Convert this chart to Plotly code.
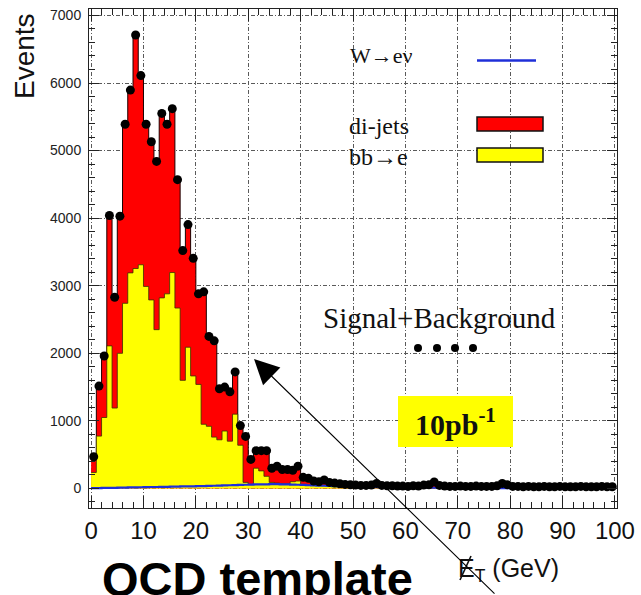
import numpy as np
import plotly.graph_objects as go

# ---------------- data (1 GeV bins, 0-100 GeV) ----------------
bin_edges = list(range(0, 101))

signal_plus_bkg = [
    470, 1515, 1960, 4040, 2830, 4030, 5390, 5895, 6710, 6110,
    5390, 5130, 4840, 5550, 5390, 5620, 4570, 3520, 3905, 3405,
    2880, 2910, 2250, 2185, 1475, 1500, 1430, 1725, 930, 770,
    430, 560, 560, 560, 300, 330, 280, 280, 270, 330,
    165, 150, 110, 100, 125, 90, 80, 70, 60, 55,
    50, 45, 45, 50, 75, 45, 40, 40, 35, 35,
    30, 40, 35, 50, 55, 95, 45, 35, 30, 30,
    35, 30, 30, 35, 30, 30, 30, 40, 75, 55,
    30, 30, 25, 30, 25, 25, 30, 25, 25, 30,
    25, 25, 25, 30, 25, 25, 25, 30, 25, 25,
]

w_enu = [
    5, 5, 8, 8, 10, 12, 12, 15, 15, 18,
    20, 22, 22, 25, 25, 28, 28, 30, 30, 32,
    35, 35, 38, 40, 42, 45, 48, 50, 52, 55,
    58, 60, 62, 62, 65, 65, 62, 60, 58, 55,
    52, 48, 45, 42, 40, 38, 35, 32, 30, 28,
    26, 25, 24, 22, 21, 20, 19, 18, 17, 16,
    15, 14, 13, 12, 12, 11, 10, 10, 9, 9,
    8, 8, 7, 7, 7, 6, 6, 6, 5, 5,
    5, 5, 5, 4, 4, 4, 4, 4, 3, 3,
    3, 3, 3, 3, 2, 2, 2, 2, 2, 2,
]

bb_e = [
    232, 770, 1042, 2102, 1180, 1988, 2728, 3175, 3240, 3292,
    2970, 2768, 2328, 2795, 2855, 3167, 2642, 1570, 2060, 1633,
    1505, 915, 882, 720, 678, 805, 652, 1050, 588, 35,
    0, 240, 198, 118, 25, 15, 8, 10, 42, 55,
    8, 2, 0, 0, 0, 0, 0, 0, 0, 0,
    0, 0, 0, 0, 0, 0, 0, 0, 0, 0,
    0, 0, 0, 0, 0, 0, 0, 0, 0, 0,
    0, 0, 0, 0, 0, 0, 0, 0, 0, 0,
    0, 0, 0, 0, 0, 0, 0, 0, 0, 0,
    0, 0, 0, 0, 0, 0, 0, 0, 0, 0,
]

dijets = [
    233, 740, 910, 1930, 1640, 2030, 2650, 2705, 3455, 2800,
    2400, 2340, 2490, 2730, 2510, 2425, 1900, 1920, 1815, 1740,
    1340, 1960, 1330, 1425, 755, 650, 730, 625, 290, 680,
    372, 260, 300, 380, 210, 250, 210, 210, 170, 220,
    105, 100, 65, 58, 85, 52, 45, 38, 30, 27,
    24, 20, 21, 28, 54, 25, 21, 22, 18, 19,
    15, 26, 22, 38, 43, 84, 35, 25, 21, 21,
    27, 22, 23, 28, 23, 24, 24, 34, 70, 50,
    25, 25, 20, 26, 21, 21, 26, 21, 22, 27,
    22, 22, 22, 27, 23, 23, 23, 28, 23, 23,
]

x_ticks = list(range(0, 101, 10))
y_ticks = list(range(0, 7001, 1000))

# ---------------- geometry helpers (pixel -> paper) ----------------
W, H = 641, 595
L, R, T, B = 89, 617, 9, 508


def px(xp):
    return (xp - L) / (R - L)


def py(yp):
    return (B - yp) / (B - T)


edges = np.array(bin_edges, dtype=float)
centers = edges[:-1] + 0.5
w_arr = np.array(w_enu, dtype=float)
bb_arr = np.array(bb_e, dtype=float)
dj_arr = np.array(dijets, dtype=float)
yellow_top = w_arr + bb_arr
red_top = yellow_top + dj_arr


def step(vals):
    return np.append(vals, vals[-1])


fig = go.Figure()
fig.add_trace(go.Scatter(x=edges, y=step(red_top), mode="lines", line_shape="hv",
                         fill="tozeroy", fillcolor="#ff0000",
                         line=dict(color="#1a0000", width=1), hoverinfo="skip",
                         name="di-jets", showlegend=False))
fig.add_trace(go.Scatter(x=edges, y=step(yellow_top), mode="lines", line_shape="hv",
                         fill="tozeroy", fillcolor="#ffff00",
                         line=dict(color="#3a3000", width=0.8), hoverinfo="skip",
                         name="bb→e", showlegend=False))
fig.add_trace(go.Scatter(x=edges, y=step(w_arr), mode="lines", line_shape="hv",
                         line=dict(color="#1f2fd8", width=2.2), hoverinfo="skip",
                         name="W→eν", showlegend=False))
fig.add_trace(go.Scatter(x=centers, y=signal_plus_bkg, mode="markers",
                         marker=dict(color="black", size=9),
                         name="Signal+Background", showlegend=False))

axis_common = dict(showline=True, linecolor="#222", linewidth=1, mirror="allticks",
                   ticks="inside", tickcolor="#222", showgrid=True,
                   gridcolor="#5a5a5a", gridwidth=1, griddash="4px,2px,1px,2px",
                   zeroline=False)

fig.update_xaxes(range=[-0.4, 100.4], tickvals=x_ticks, ticklen=12, tickwidth=1.2,
                 minor=dict(dtick=2, ticks="inside", ticklen=6, tickcolor="#222", showgrid=False),
                 tickfont=dict(family="Liberation Sans, Arial", size=24, color="#111"),
                 ticklabelstandoff=1, **axis_common)
fig.update_yaxes(range=[-289, 7095], tickvals=y_ticks, ticklen=10, tickwidth=1.2,
                 minor=dict(dtick=200, ticks="inside", ticklen=6, tickcolor="#222", showgrid=False),
                 tickfont=dict(family="Liberation Sans, Arial", size=14, color="#222"),
                 ticklabelstandoff=4, **axis_common)

shapes = []
# legend swatches
shapes.append(dict(type="line", xref="paper", yref="paper",
                   x0=px(477), x1=px(536), y0=py(60.5), y1=py(60.5),
                   line=dict(color="#1f2fd8", width=2.5)))
shapes.append(dict(type="rect", xref="paper", yref="paper",
                   x0=px(477), x1=px(543), y0=py(131), y1=py(117),
                   fillcolor="#ff0000", line=dict(color="#111", width=1.5)))
shapes.append(dict(type="rect", xref="paper", yref="paper",
                   x0=px(477), x1=px(543), y0=py(162), y1=py(148),
                   fillcolor="#ffff00", line=dict(color="#111", width=1.5)))
# Signal+Background marker row
for xc in [418, 437, 455, 473]:
    shapes.append(dict(type="circle", xref="paper", yref="paper",
                       x0=px(xc - 4), x1=px(xc + 4), y0=py(352), y1=py(344),
                       fillcolor="black", line=dict(color="black", width=0)))
# luminosity box
shapes.append(dict(type="rect", xref="paper", yref="paper",
                   x0=px(398), x1=px(513), y0=py(447), y1=py(396),
                   fillcolor="#ffff00", line=dict(width=0)))
# slash of the missing-ET symbol
shapes.append(dict(type="line", xref="paper", yref="paper",
                   x0=px(460), x1=px(471), y0=py(580), y1=py(556),
                   line=dict(color="#111", width=1.6)))

serif = "Liberation Serif, Times New Roman, serif"
sans = "Liberation Sans, Arial, sans-serif"
annotations = [
    dict(text="W<b>→</b>eν", x=px(348), y=py(56), xanchor="left", yanchor="middle",
         font=dict(family=serif, size=22, color="#111")),
    dict(text="di-jets", x=px(347), y=py(126), xanchor="left", yanchor="middle",
         font=dict(family=serif, size=24, color="#111")),
    dict(text="bb<b>→</b>e", x=px(347), y=py(157), xanchor="left", yanchor="middle",
         font=dict(family=serif, size=24, color="#111")),
    dict(text="Signal+Background", x=px(439), y=py(318), xanchor="center", yanchor="middle",
         font=dict(family=serif, size=29, color="#111")),
    dict(text="<b>10pb<sup>-1</sup></b>", x=px(455), y=py(422), xanchor="center", yanchor="middle",
         font=dict(family=serif, size=30, color="#111")),
    dict(text="Events", x=px(25), y=py(56), xanchor="center", yanchor="middle",
         textangle=-90, font=dict(family=sans, size=28, color="#111")),
    dict(text="E<sub>T</sub> (GeV)", x=px(456), y=py(570), xanchor="left", yanchor="middle",
         font=dict(family=sans, size=25, color="#111")),
    dict(text="<b>QCD template</b>", x=px(100), y=py(578), xanchor="left", yanchor="middle",
         font=dict(family=sans, size=47, color="black")),
    dict(text="", x=px(254), y=py(359), showarrow=True, ax=242, ay=245,
         arrowhead=2, arrowsize=4.5, arrowwidth=1.1, arrowcolor="black", standoff=0),
]
for a in annotations:
    a.setdefault("xref", "paper")
    a.setdefault("yref", "paper")
    a.setdefault("showarrow", False)

fig.update_layout(width=W, height=H, paper_bgcolor="white", plot_bgcolor="white",
                  margin=dict(l=L, r=W - R, t=T, b=H - B, autoexpand=False),
                  shapes=shapes, annotations=annotations, showlegend=False,
                  font=dict(family=sans))

fig.write_html("out.html")
